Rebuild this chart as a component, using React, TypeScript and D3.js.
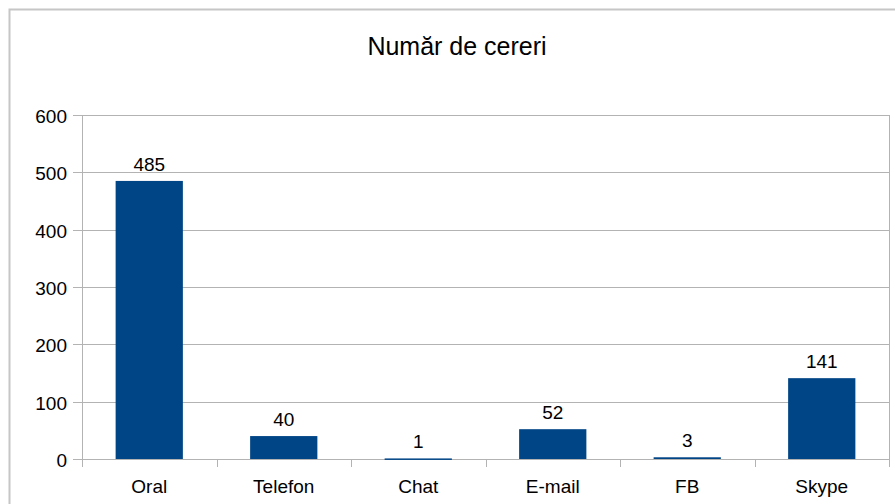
import { useEffect, useRef } from 'react';
import * as d3 from 'd3';

const categories = ['Oral', 'Telefon', 'Chat', 'E-mail', 'FB', 'Skype'];
const values = [485, 40, 1, 52, 3, 141];
const yTicks = [0, 100, 200, 300, 400, 500, 600];
const title = 'Număr de cereri';

export default function App() {
  const svgRef = useRef<SVGSVGElement>(null);
  const width = 895;
  const height = 504;
  const margin = { top: 115, right: 6, bottom: 45, left: 82 };
  const font = '"Liberation Sans", Arial, sans-serif';

  useEffect(() => {
    if (!svgRef.current) return;
    const svg = d3.select(svgRef.current);
    svg.selectAll('*').remove();

    // outer chart frame, it runs off the right and bottom edges
    svg.append('rect')
      .attr('x', 9.5)
      .attr('y', 9.5)
      .attr('width', 900)
      .attr('height', 520)
      .attr('fill', 'white')
      .attr('stroke', '#c6c6c6')
      .attr('stroke-width', 2);

    svg.append('text')
      .attr('x', 457)
      .attr('y', 55)
      .attr('text-anchor', 'middle')
      .style('font-family', font)
      .style('font-size', '25px')
      .attr('fill', '#000')
      .text(title);

    const x = d3.scaleBand<string>()
      .domain(categories)
      .range([margin.left, width - margin.right])
      .paddingInner(0.5)
      .paddingOuter(0.25);

    const y = d3.scaleLinear()
      .domain([0, 600])
      .range([height - margin.bottom, margin.top]);

    const x0 = margin.left;
    const x1 = width - margin.right;
    const grid = '#b3b3b3';

    // horizontal grid lines + left ticks
    yTicks.forEach((t) => {
      const yy = Math.round(y(t)) + 0.5;
      svg.append('line')
        .attr('x1', x0 - 9).attr('x2', x1)
        .attr('y1', yy).attr('y2', yy)
        .attr('stroke', grid).attr('stroke-width', 1);
      svg.append('text')
        .attr('x', 67)
        .attr('y', yy + 7)
        .attr('text-anchor', 'end')
        .style('font-family', font)
        .style('font-size', '19px')
        .attr('fill', '#000')
        .text(t);
    });

    // y axis line and right wall line
    svg.append('line')
      .attr('x1', x0 + 0.5).attr('x2', x0 + 0.5)
      .attr('y1', y(600)).attr('y2', y(0) + 8)
      .attr('stroke', grid);
    svg.append('line')
      .attr('x1', x1 + 0.5).attr('x2', x1 + 0.5)
      .attr('y1', y(600)).attr('y2', y(0) + 8)
      .attr('stroke', grid);

    // category boundary ticks
    const step = x.step();
    for (let i = 1; i < categories.length; i++) {
      const xx = Math.round(x0 + step * i) + 0.5;
      svg.append('line')
        .attr('x1', xx).attr('x2', xx)
        .attr('y1', y(0)).attr('y2', y(0) + 8)
        .attr('stroke', grid);
    }

    // bars
    svg.selectAll('rect.bar')
      .data(values)
      .enter()
      .append('rect')
      .attr('class', 'bar')
      .attr('x', (_, i) => x(categories[i]) as number)
      .attr('y', (d) => y(d))
      .attr('width', x.bandwidth())
      .attr('height', (d) => Math.max(1.5, y(0) - y(d)))
      .attr('fill', '#004586');

    // value labels
    svg.selectAll('text.val')
      .data(values)
      .enter()
      .append('text')
      .attr('class', 'val')
      .attr('x', (_, i) => (x(categories[i]) as number) + x.bandwidth() / 2)
      .attr('y', (d) => y(d) - 10)
      .attr('text-anchor', 'middle')
      .style('font-family', font)
      .style('font-size', '19px')
      .attr('fill', '#000')
      .text((d) => d);

    // category labels
    categories.forEach((c) => {
      svg.append('text')
        .attr('x', (x(c) as number) + x.bandwidth() / 2)
        .attr('y', 493)
        .attr('text-anchor', 'middle')
        .style('font-family', font)
        .style('font-size', '19px')
        .attr('fill', '#000')
        .text(c);
    });
  }, []);

  return (
    <svg
      ref={svgRef}
      width={width}
      height={height}
      viewBox={`0 0 ${width} ${height}`}
      style={{ position: 'absolute', left: 0, top: 0, background: 'white' }}
    />
  );
}
